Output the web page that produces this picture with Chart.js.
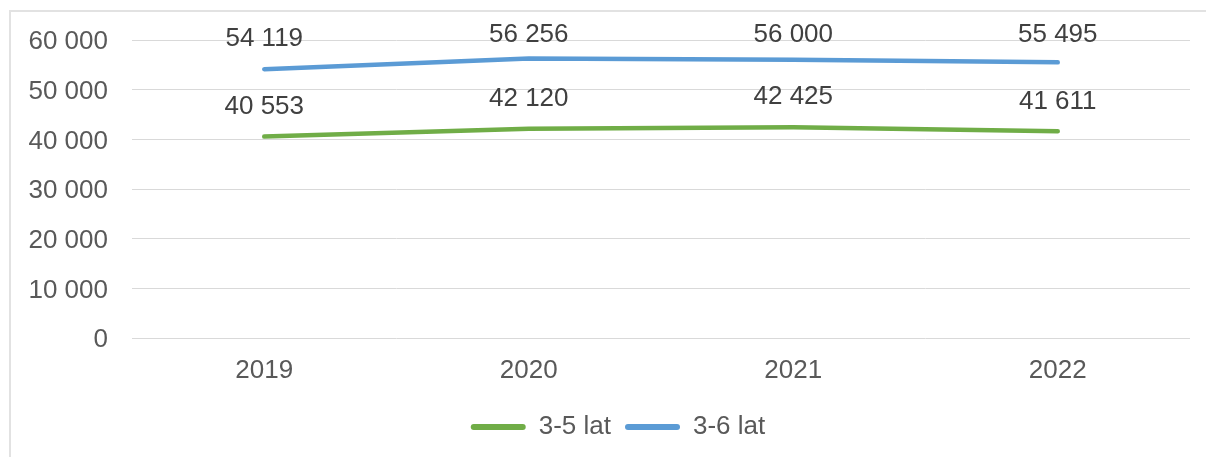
<!DOCTYPE html>
<html>
<head>
<meta charset="utf-8">
<script src="https://cdn.jsdelivr.net/npm/chart.js@4"></script>
<style>
  html, body { margin: 0; padding: 0; background: #fff; overflow: hidden; }
  #wrap { position: relative; width: 1206px; height: 457px; }
  #frame { position: absolute; left: 9px; top: 10px; width: 1300px; height: 500px; border: 2px solid #e2e2e2; box-sizing: border-box; }
  #chart { position: absolute; left: 0; top: 0; }
</style>
</head>
<body>
<div id="wrap">
  <div id="frame"></div>
  <canvas id="chart" width="1206" height="457"></canvas>
</div>
<script>
const years = ['2019', '2020', '2021', '2022'];
const seriesNames = ['3-5 lat', '3-6 lat'];
const age3to5 = [40553, 42120, 42425, 41611];
const age3to6 = [54119, 56256, 56000, 55495];
const yTicks = [0, 10000, 20000, 30000, 40000, 50000, 60000];

const fmt = v => String(v).replace(/\B(?=(\d{3})+(?!\d))/g, ' ');

Chart.defaults.font.family = "'Liberation Sans', Arial, sans-serif";
Chart.defaults.font.size = 26;
Chart.defaults.color = '#595959';

// value labels above each point
const valueLabels = {
    id: 'valueLabels',
    afterDatasetsDraw(chart) {
        const ctx = chart.ctx;
        ctx.save();
        ctx.font = "26px 'Liberation Sans', Arial, sans-serif";
        ctx.fillStyle = '#404040';
        ctx.textAlign = 'center';
        ctx.textBaseline = 'middle';
        chart.data.datasets.forEach((ds, i) => {
            chart.getDatasetMeta(i).data.forEach((pt, j) => {
                const y = Math.max(pt.y - 30, 35);
                ctx.fillText(fmt(ds.data[j]), pt.x, y);
            });
        });
        ctx.restore();
    }
};

// centre the legend a bit to the right, like the original
const legendShift = {
    id: 'legendShift',
    afterLayout(chart) {
        if (chart.legend) chart.legend.left = 46;
    }
};

new Chart(document.getElementById('chart'), {
    type: 'line',
    data: {
        labels: years,
        datasets: [
            {
                label: seriesNames[0],
                data: age3to5,
                borderColor: '#70AD47',
                backgroundColor: '#70AD47',
                borderWidth: 4.5,
                borderCapStyle: 'round',
                borderJoinStyle: 'round',
                pointRadius: 0,
                tension: 0
            },
            {
                label: seriesNames[1],
                data: age3to6,
                borderColor: '#5B9BD5',
                backgroundColor: '#5B9BD5',
                borderWidth: 4.5,
                borderCapStyle: 'round',
                borderJoinStyle: 'round',
                pointRadius: 0,
                tension: 0
            }
        ]
    },
    options: {
        responsive: false,
        animation: false,
        layout: { padding: { top: 40, left: 0, right: 16, bottom: 7 } },
        plugins: {
            tooltip: { enabled: false },
            legend: {
                position: 'bottom',
                labels: {
                    boxWidth: 55,
                    boxHeight: 6,
                    padding: 14,
                    color: '#595959',
                    useBorderRadius: true,
                    borderRadius: 3,
                    generateLabels: chart => Chart.defaults.plugins.legend.labels.generateLabels(chart)
                        .map(l => ({ ...l, lineWidth: 0, fillStyle: l.strokeStyle }))
                }
            }
        },
        scales: {
            x: {
                offset: true,
                grid: { display: false },
                border: { display: false },
                ticks: { padding: 9, color: '#595959' },
                afterFit: s => { s.height = 62; }
            },
            y: {
                min: 0,
                max: 60000,
                afterBuildTicks: s => { s.ticks = yTicks.map(v => ({ value: v })); },
                grid: { color: '#d9d9d9', lineWidth: 1, drawTicks: false },
                border: { display: false },
                ticks: { padding: 24, labelOffset: 2, color: '#595959', callback: v => fmt(v) },
                afterFit: s => { s.width = 132; }
            }
        }
    },
    plugins: [valueLabels, legendShift]
});
</script>
</body>
</html>
